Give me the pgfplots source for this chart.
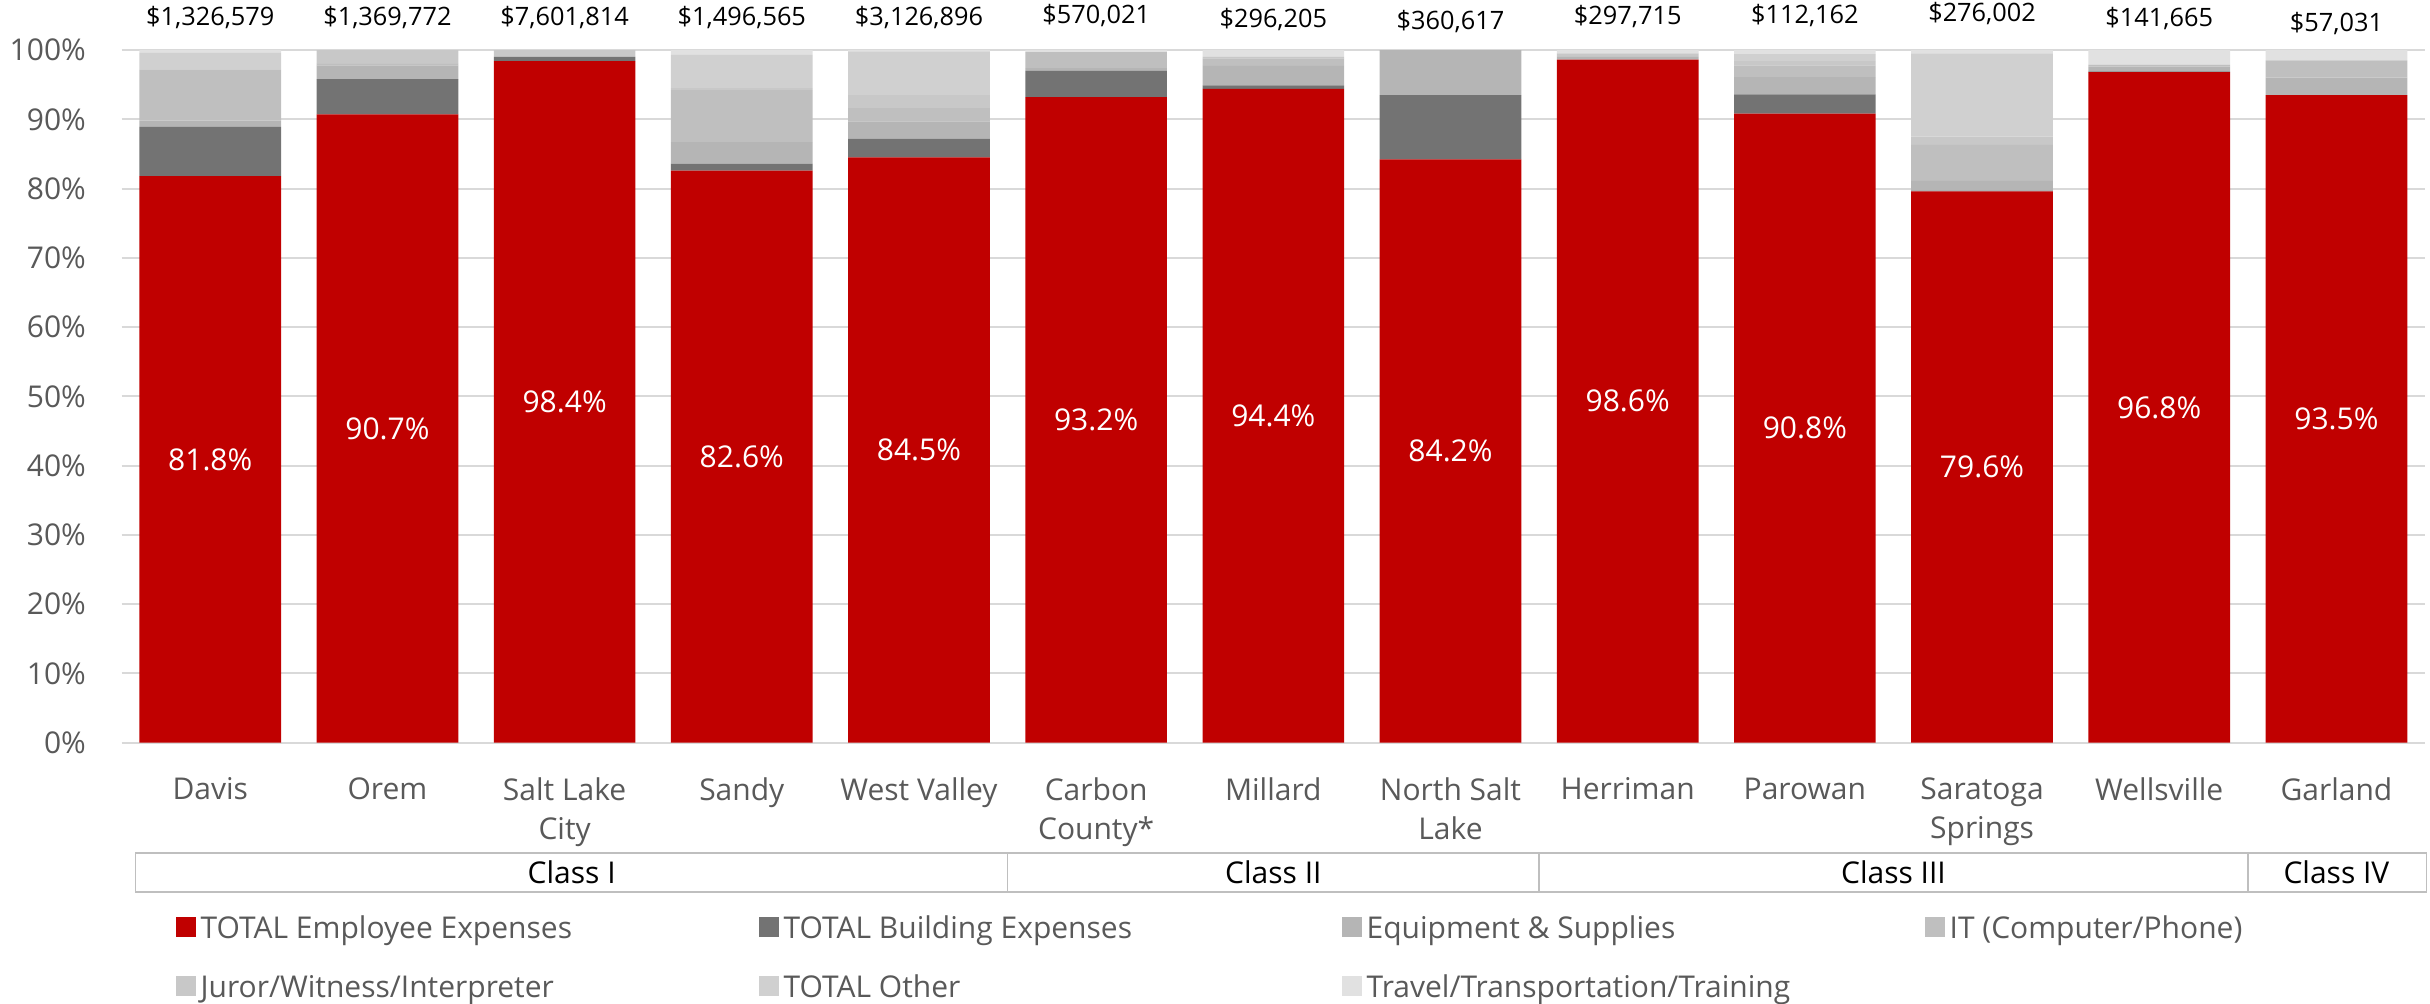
\documentclass[border=0pt]{standalone}
\usepackage{pgfplots}
\pgfplotsset{compat=1.18}
\usepackage{pgfplotstable}
\usepackage{fontspec}
\setmainfont{Open Sans}
\definecolor{cEmp}{HTML}{C00000}
\definecolor{cBld}{HTML}{737373}
\definecolor{cEqp}{HTML}{B5B5B5}
\definecolor{cIT}{HTML}{BFBFBF}
\definecolor{cJur}{HTML}{C8C8C8}
\definecolor{cOth}{HTML}{D0D0D0}
\definecolor{cTrv}{HTML}{E1E1E1}
\definecolor{txt}{HTML}{595959}
\definecolor{gridc}{HTML}{D9D9D9}
\definecolor{boxc}{HTML}{BFBFBF}

\pgfplotstableread{
x emp bld eqp it jur oth trv
0 81.8 7.1 0.9 7.4 0 2.4 0.4
1 90.7 5.1 2.0 0.2 2.0 0 0
2 98.4 0.6 0 0 1.0 0 0
3 82.6 1.0 3.1 7.5 0.3 4.8 0.7
4 84.5 2.7 2.5 1.9 1.9 6.3 0.2
5 93.2 3.8 0.4 2.3 0 0 0.3
6 94.4 0.5 2.8 1.1 0.2 0 1.0
7 84.2 9.3 6.5 0 0 0 0
8 98.6 0 0.4 0 0.5 0 0.5
9 90.8 2.8 2.5 1.7 0.6 1.0 0.6
10 79.6 0.1 1.4 5.2 1.2 12.0 0.5
11 96.8 0.1 0.7 0.3 0 0 2.1
12 93.5 0 2.5 2.5 0 0 1.5
}\shares

\pgfplotstableread{
x y lab
0 104.69 1,326,579
1 104.69 1,369,772
2 104.69 7,601,814
3 104.69 1,496,565
4 104.75 3,126,896
5 104.98 570,021
6 104.33 296,205
7 104.09 360,617
8 104.81 297,715
9 104.91 112,162
10 105.30 276,002
11 104.50 141,665
12 103.77 57,031
}\totals

\newcommand{\lblfont}{\fontsize{9}{11.7}\selectfont}
\newcommand{\entry}[1]{\makebox[165.9pt][l]{#1}}

\begin{document}
\begin{tikzpicture}
\useasboundingbox (-36.5pt,-78.1pt) rectangle (692.5pt,222.8pt);
\begin{axis}[
  scale only axis, width=691pt, height=207.8pt,
  at={(0pt,0pt)}, anchor=south west,
  xmin=-0.5, xmax=12.5, ymin=0, ymax=100,
  ybar stacked, bar width=42.5pt,
  axis line style={draw=none},
  major tick length=0pt,
  ymajorgrids, grid style={gridc, line width=0.6pt},
  ytick={0,10,...,100},
  yticklabel={\pgfmathprintnumber{\tick}\%},
  /pgf/number format/assume math mode=true,
  xtick={0,...,12},
  xticklabels={Davis, Orem, {Salt Lake\\City}, Sandy, West Valley, {Carbon\\County*}, Millard, {North Salt\\Lake}, Herriman, Parowan, {Saratoga\\Springs}, Wellsville, Garland},
  tick label style={font=\lblfont, text=txt},
  xticklabel style={align=center, anchor=north, yshift=-7pt},
  yticklabel style={anchor=east, xshift=-7.2pt},
  legend columns=4,
  legend cell align=left,
  legend style={draw=none, fill=none, inner sep=0pt, at={(0.02315,-0.2404)}, anchor=north west,
    font=\lblfont, text=txt, column sep=0pt, row sep=5.7pt,
    nodes={inner sep=1.5pt, text height=7pt, text depth=2pt}},
  legend image code/.code={\fill[#1] (0pt,-2.25pt) rectangle (6pt,3.75pt);},
]
\addplot[fill=cEmp, draw=none] table[x=x, y=emp] {\shares};
\addlegendentry{\entry{TOTAL Employee Expenses}}
\addplot[fill=cBld, draw=none] table[x=x, y=bld] {\shares};
\addlegendentry{\entry{TOTAL Building Expenses}}
\addplot[fill=cEqp, draw=none] table[x=x, y=eqp] {\shares};
\addlegendentry{\entry{Equipment \& Supplies}}
\addplot[fill=cIT, draw=none] table[x=x, y=it] {\shares};
\addlegendentry{\entry{IT (Computer/Phone)}}
\addplot[fill=cJur, draw=none] table[x=x, y=jur] {\shares};
\addlegendentry{\entry{Juror/Witness/Interpreter}}
\addplot[fill=cOth, draw=none] table[x=x, y=oth] {\shares};
\addlegendentry{\entry{TOTAL Other}}
\addplot[fill=cTrv, draw=none] table[x=x, y=trv] {\shares};
\addlegendentry{\entry{Travel/Transportation/Training}}
\end{axis}

\begin{axis}[
  scale only axis, width=691pt, height=207.8pt,
  at={(0pt,0pt)}, anchor=south west,
  xmin=-0.5, xmax=12.5, ymin=0, ymax=100,
  hide axis, clip=false,
  /pgf/number format/assume math mode=true,
]
\addplot[draw=none, mark=none, point meta=explicit,
  nodes near coords={\pgfmathprintnumber[fixed,fixed zerofill,precision=1]{\pgfplotspointmeta}\%},
  nodes near coords style={anchor=center, text=white, font=\lblfont}]
  table[x=x, y expr=\thisrow{emp}/2, meta=emp] {\shares};
\addplot[draw=none, mark=none, point meta=explicit symbolic,
  nodes near coords={\$\pgfplotspointmeta},
  nodes near coords style={anchor=center, text=black, font=\fontsize{7.6}{9}\selectfont}]
  table[x=x, y=y, meta=lab] {\totals};
\draw[boxc, line width=0.5pt] (axis cs:-0.422,-15.88) rectangle (axis cs:12.509,-21.55);
\draw[boxc, line width=0.5pt] (axis cs:4.5,-15.88) -- (axis cs:4.5,-21.55);
\draw[boxc, line width=0.5pt] (axis cs:7.5,-15.88) -- (axis cs:7.5,-21.55);
\draw[boxc, line width=0.5pt] (axis cs:11.5,-15.88) -- (axis cs:11.5,-21.55);
\node[font=\lblfont, text=black] at (axis cs:2.04,-18.7) {Class I};
\node[font=\lblfont, text=black] at (axis cs:6,-18.7) {Class II};
\node[font=\lblfont, text=black] at (axis cs:9.5,-18.7) {Class III};
\node[font=\lblfont, text=black] at (axis cs:12.0,-18.7) {Class IV};
\end{axis}
\end{tikzpicture}
\end{document}
